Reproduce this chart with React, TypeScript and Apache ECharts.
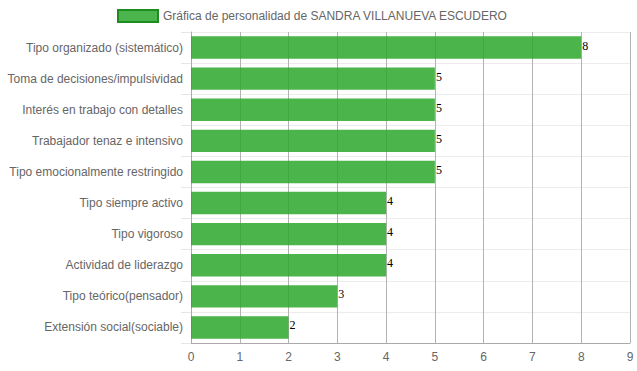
import React, { useEffect, useRef } from "react";
import * as echarts from "echarts";

const categories = [
  "Tipo organizado (sistemático)",
  "Toma de decisiones/impulsividad",
  "Interés en trabajo con detalles",
  "Trabajador tenaz e intensivo",
  "Tipo emocionalmente restringido",
  "Tipo siempre activo",
  "Tipo vigoroso",
  "Actividad de liderazgo",
  "Tipo teórico(pensador)",
  "Extensión social(sociable)",
];
const values = [8, 5, 5, 5, 5, 4, 4, 4, 3, 2];
const seriesName = "Gráfica de personalidad de SANDRA VILLANUEVA ESCUDERO";

export default function App() {
  const ref = useRef<HTMLDivElement>(null);
  useEffect(() => {
    const chart = echarts.init(ref.current!, null, { renderer: "svg" });
    const font = "'Liberation Sans', Arial, sans-serif";
    chart.setOption({
      animation: false,
      textStyle: { fontFamily: font },
      legend: {
        left: 112,
        top: 4,
        itemWidth: 40,
        itemHeight: 12,
        itemGap: 6,
        textStyle: { color: "#666", fontSize: 12, fontFamily: font },
        data: [
          {
            name: seriesName,
            icon: "rect",
            itemStyle: { color: "rgb(76,180,76)", borderColor: "#1e8c1e", borderWidth: 2 },
          },
        ],
      },
      grid: { left: 191, right: 7, top: 32, bottom: 28, containLabel: false },
      xAxis: {
        type: "value",
        min: 0,
        max: 9,
        interval: 1,
        axisLine: { show: true, lineStyle: { color: "#aaa" } },
        axisTick: { show: false },
        axisLabel: { color: "#666", fontSize: 12, fontFamily: font, margin: 8 },
        splitLine: { show: true, lineStyle: { color: "#b3b3b3", width: 1 } },
      },
      yAxis: {
        type: "category",
        inverse: true,
        data: categories,
        axisLine: { show: true, lineStyle: { color: "#aaa" } },
        axisTick: { show: true, length: 10, lineStyle: { color: "#e6e6e6" } },
        axisLabel: { color: "#666", fontSize: 12, fontFamily: font, margin: 8 },
        splitLine: { show: true, lineStyle: { color: "#ececec" } },
      },
      series: [
        {
          name: seriesName,
          type: "bar",
          data: values,
          barWidth: "72%",
          itemStyle: { color: "rgba(44,167,44,0.85)" },
          label: {
            show: true,
            position: "right",
            distance: 1,
            color: "#000",
            fontSize: 12,
            fontFamily: "'Liberation Serif', serif",
            offset: [0, -2],
          },
        },
      ],
    });
    return () => chart.dispose();
  }, []);
  return <div ref={ref} style={{ width: 637, height: 371, position: "absolute", left: 0, top: 0 }} />;
}
